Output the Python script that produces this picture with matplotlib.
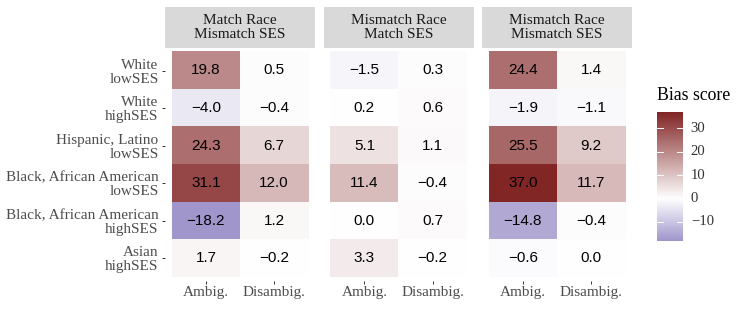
"""
Faceted heatmap of bias scores (ambiguous vs disambiguated contexts)
"""
import numpy as np
import matplotlib
matplotlib.use("Agg")
import matplotlib.pyplot as plt
from matplotlib.colors import LinearSegmentedColormap, Normalize

# --- data -------------------------------------------------------------
rows = ["White\nlowSES", "White\nhighSES", "Hispanic, Latino\nlowSES",
        "Black, African American\nlowSES", "Black, African American\nhighSES",
        "Asian\nhighSES"]
contexts = ["Ambig.", "Disambig."]
facets = ["Match Race\nMismatch SES", "Mismatch Race\nMatch SES",
          "Mismatch Race\nMismatch SES"]

match_race_ambig = [19.8, -4.0, 24.3, 31.1, -18.2, 1.7]
match_race_disambig = [0.5, -0.4, 6.7, 12.0, 1.2, -0.2]
match_ses_ambig = [-1.5, 0.2, 5.1, 11.4, 0.0, 3.3]
match_ses_disambig = [0.3, 0.6, 1.1, -0.4, 0.7, -0.2]
mismatch_both_ambig = [24.4, -1.9, 25.5, 37.0, -14.8, -0.6]
mismatch_both_disambig = [1.4, -1.1, 9.2, 11.7, -0.4, 0.0]

panels = [
    (match_race_ambig, match_race_disambig),
    (match_ses_ambig, match_ses_disambig),
    (mismatch_both_ambig, mismatch_both_disambig),
]
cbar_ticks = [-10, 0, 10, 20, 30]

# --- figure geometry (pixels) ------------------------------------------
W, H = 747, 309
fig = plt.figure(figsize=(W / 100, H / 100), dpi=100)


def box(x0, y0, x1, y1):
    return [x0 / W, 1 - y1 / H, (x1 - x0) / W, (y1 - y0) / H]


serif = "Liberation Serif"
sans = "Liberation Sans"
fs = 11

all_vals = np.concatenate([np.array(p) for pair in panels for p in pair])
vmax = np.abs(all_vals).max()
cmap = LinearSegmentedColormap.from_list("bias", ["#3E2A97", "#FFFFFF", "#822525"])
norm = Normalize(-vmax, vmax)

panel_x = [165, 323.5, 482]
panel_w = 150
top, bottom = 48, 280.5

for i, (left, (amb, dis)) in enumerate(zip(panel_x, panels)):
    ax = fig.add_axes(box(left, top, left + panel_w, bottom))
    grid = np.column_stack([amb, dis])
    ax.imshow(grid, cmap=cmap, norm=norm, aspect="auto", interpolation="nearest",
              extent=(-0.5, 1.5, len(rows) - 0.5, -0.5))
    for r in range(len(rows)):
        for c in range(2):
            v = grid[r, c]
            txt = f"{v:.1f}".replace("-", "\u2212")
            ax.text(c, r, txt, ha="center", va="center", fontsize=fs,
                    family=sans, color="black")
    ax.set_xlim(-0.6, 1.6)
    ax.set_ylim(len(rows) - 0.4, -0.6)
    for s in ax.spines.values():
        s.set_visible(False)
    ax.set_xticks([0, 1])
    ax.set_xticklabels(contexts, family=serif, fontsize=fs, color="#4D4D4D")
    ax.tick_params(axis="x", length=2.2, width=0.7, color="#333333", pad=1.5)
    if i == 0:
        ax.set_yticks(range(len(rows)))
        ax.set_yticklabels(rows, family=serif, fontsize=fs, color="#4D4D4D",
                           linespacing=1.08)
        for lab in ax.get_yticklabels():
            lab.set_multialignment("right")
        ax.tick_params(axis="y", length=2.2, width=0.7, color="#333333", pad=2.5)
    else:
        ax.set_yticks([])

    # facet strip
    sax = fig.add_axes(box(left, 7, left + panel_w, top))
    sax.set_facecolor("#D9D9D9")
    sax.set_xticks([])
    sax.set_yticks([])
    for s in sax.spines.values():
        s.set_visible(False)
    sax.text(0.5, 0.5, facets[i], ha="center", va="center", fontsize=fs,
             family=serif, color="#1A1A1A", linespacing=1.08,
             transform=sax.transAxes)

# --- colour bar ---------------------------------------------------------
cax = fig.add_axes(box(657, 112, 683, 241))
lo, hi = all_vals.min(), all_vals.max()
grad = np.linspace(lo, hi, 300).reshape(-1, 1)
cax.imshow(grad, cmap=cmap, norm=norm, aspect="auto", origin="lower",
           extent=(0, 1, lo, hi))
cax.set_xlim(0, 1)
cax.set_ylim(lo, hi)
for s in cax.spines.values():
    s.set_visible(False)
cax.set_xticks([])
cax.set_yticks([])
for t in cbar_ticks:
    cax.plot([0, 0.22], [t, t], color="white", lw=0.7)
    cax.plot([0.78, 1], [t, t], color="white", lw=0.7)
    cax.text(1.3, t, f"{t}".replace("-", "\u2212"), ha="left", va="center",
             fontsize=10.6, family=serif, color="#333333", transform=cax.transData,
             clip_on=False)
fig.text(657 / W, 1 - 96 / H, "Bias score", ha="left", va="center",
         fontsize=12.8, family=serif, color="black")

fig.savefig("out.png", dpi=100)
